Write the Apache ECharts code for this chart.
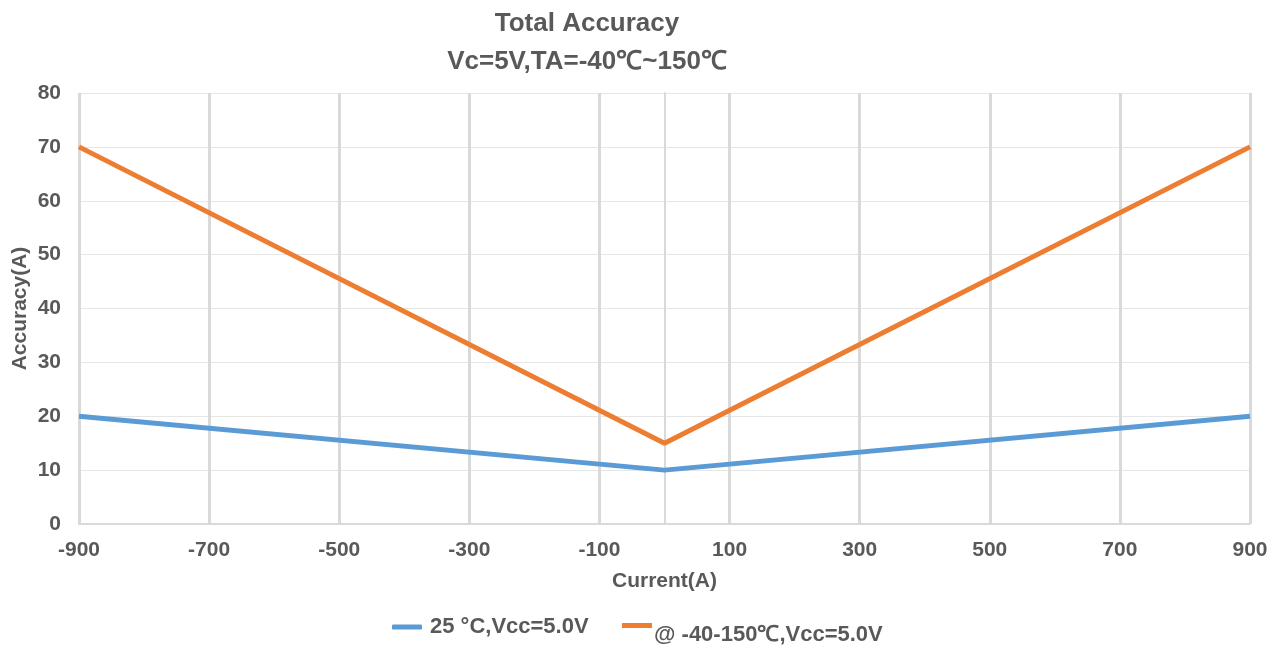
<!DOCTYPE html>
<html>
<head>
<meta charset="utf-8">
<script src="https://cdn.jsdelivr.net/npm/echarts@6/dist/echarts.min.js"></script>
<style>
  html, body { margin: 0; padding: 0; background: #fff; }
  #chart { width: 1279px; height: 653px; }
</style>
</head>
<body>
<div id="chart"></div>
<script>
var seriesNames = ['25 °C,Vcc=5.0V', '@ -40-150℃,Vcc=5.0V'];
var currentX = [-900, 0, 900];
var accuracy25 = [20, 10, 20];
var accuracyFull = [70, 15, 70];

var myChart = echarts.init(document.getElementById('chart'));
var textGrey = '#595959';
var fontName = 'Liberation Sans, Arial, sans-serif';

function pairs(xs, ys) {
    return xs.map(function (x, i) { return [x, ys[i]]; });
}

var option = {
    backgroundColor: '#ffffff',
    title: {
        text: 'Total Accuracy\nVc=5V,TA=-40℃~150℃',
        left: 582,
        top: 0,
        textAlign: 'center',
        textStyle: {
            color: textGrey,
            fontSize: 26,
            fontWeight: 'bold',
            fontFamily: fontName,
            lineHeight: 38
        }
    },
    legend: [{
        data: [seriesNames[0]],
        left: 387,
        top: 611,
        itemWidth: 30,
        itemHeight: 5,
        itemGap: 8,
        icon: 'roundRect',
        textStyle: { color: textGrey, fontSize: 22, fontWeight: 'bold', fontFamily: fontName, padding: [0, 0, 0, 3] }
    }, {
        // icon band sits higher than the label, as in the original
        data: [seriesNames[1]],
        left: 617,
        top: 618,
        itemWidth: 30,
        itemHeight: 23,
        icon: 'path://M0,0h30v5h-30z M0,23h0.01v0.01h-0.01z',
        textStyle: { color: textGrey, fontSize: 22, fontWeight: 'bold', fontFamily: fontName, padding: [0, 0, 0, -3] }
    }],
    grid: {
        left: 79,
        right: 29,
        top: 93,
        bottom: 129,
        containLabel: false,
        outerBoundsMode: 'none'
    },
    xAxis: {
        type: 'value',
        min: -900,
        max: 900,
        interval: 200,
        name: 'Current(A)',
        nameLocation: 'middle',
        nameGap: 47,
        nameMoveOverlap: false,
        nameTextStyle: { color: textGrey, fontSize: 21, fontWeight: 'bold', fontFamily: fontName },
        axisLine: { lineStyle: { color: '#d9d9d9', width: 2 } },
        axisTick: { show: false },
        axisLabel: { color: textGrey, fontSize: 21, fontWeight: 'bold', fontFamily: fontName, margin: 16, showMaxLabel: true, showMinLabel: true },
        splitLine: { show: true, lineStyle: { color: '#d9d9d9', width: 3 } }
    },
    yAxis: {
        type: 'value',
        min: 0,
        max: 80,
        interval: 10,
        name: 'Accuracy(A)',
        nameLocation: 'middle',
        nameGap: 48,
        nameMoveOverlap: false,
        nameTextStyle: { color: textGrey, fontSize: 21, fontWeight: 'bold', fontFamily: fontName },
        axisLine: { show: true, lineStyle: { color: '#d9d9d9', width: 2 } },
        axisTick: { show: false },
        axisLabel: { color: textGrey, fontSize: 21, fontWeight: 'bold', fontFamily: fontName, margin: 18 },
        splitLine: { show: true, lineStyle: { color: '#e6e6e6', width: 1 } }
    },
    series: [{
        name: seriesNames[0],
        type: 'line',
        data: pairs(currentX, accuracy25),
        showSymbol: false,
        symbol: 'none',
        lineStyle: { color: '#5b9bd5', width: 5 },
        itemStyle: { color: '#5b9bd5' }
    }, {
        name: seriesNames[1],
        type: 'line',
        data: pairs(currentX, accuracyFull),
        showSymbol: false,
        symbol: 'none',
        lineStyle: { color: '#ed7d31', width: 5 },
        itemStyle: { color: '#ed7d31' }
    }]
};
myChart.setOption(option);
window.addEventListener('resize', function () {
    myChart.resize();
});
</script>
</body>
</html>
